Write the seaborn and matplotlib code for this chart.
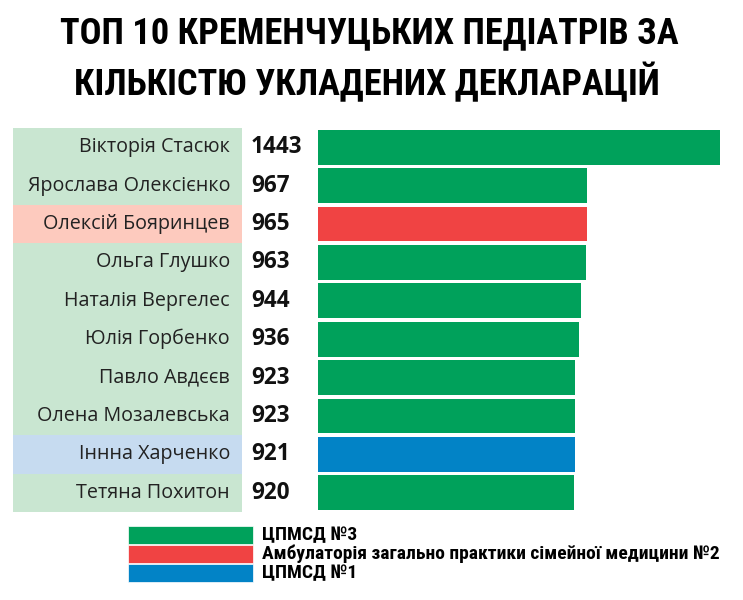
import matplotlib
matplotlib.use("Agg")
import matplotlib.pyplot as plt
import matplotlib.transforms as mtransforms
from matplotlib.patches import Rectangle
from matplotlib import font_manager
import seaborn as sns
import pandas as pd

# data
names = ["Вікторія Стасюк", "Ярослава Олексієнко", "Олексій Бояринцев", "Ольга Глушко",
         "Наталія Вергелес", "Юлія Горбенко", "Павло Авдєєв", "Олена Мозалевська",
         "Іннна Харченко", "Тетяна Похитон"]
declarations = [1443, 967, 965, 963, 944, 936, 923, 923, 921, 920]
clinic_order = ["ЦПМСД №3", "Амбулаторія загально практики сімейної медицини №2", "ЦПМСД №1"]
clinics = [clinic_order[i] for i in [0, 0, 1, 0, 0, 0, 0, 0, 2, 0]]
bar_colors = ["#00A15B", "#F04343", "#0283C6"]
row_colors = ["#C9E6D1", "#FDCABE", "#C6DBF0"]
title_lines = ["ТОП 10 КРЕМЕНЧУЦЬКИХ ПЕДІАТРІВ ЗА", "КІЛЬКІСТЮ УКЛАДЕНИХ ДЕКЛАРАЦІЙ"]

W, H = 743, 600


def fx(px):
    return px / W


def fy(px):
    return 1 - px / H


installed = {f.name for f in font_manager.fontManager.ttflist}
cond = "Roboto Condensed" if "Roboto Condensed" in installed else "Roboto"
body_font = "Open Sans" if "Open Sans" in installed else "DejaVu Sans"

df = pd.DataFrame({"name": names, "declarations": declarations, "clinic": clinics})

sns.set_theme(style="white")
fig = plt.figure(figsize=(W / 100, H / 100), dpi=100)
# bars region: value 0 at x=318px, 1443 at x=720px, rows from y=128 to 512px
ax = fig.add_axes([fx(318), fy(512), fx(720 - 318), (512 - 128) / H])
sns.barplot(data=df, x="declarations", y="name", hue="clinic", hue_order=clinic_order,
            palette=bar_colors, dodge=False, width=0.91, saturation=1,
            legend=False, ax=ax, edgecolor="none")
ax.set_xlim(0, max(declarations))
ax.set_ylim(len(names) - 0.5, -0.5)
ax.axis("off")

fig.canvas.draw()
renderer = fig.canvas.get_renderer()


def fit(t, target_px):
    w = t.get_window_extent(renderer).width
    t.set_fontsize(t.get_fontsize() * target_px / w)
    return t.get_fontsize()


# name column backgrounds and labels
trans = mtransforms.blended_transform_factory(fig.transFigure, ax.transData)
name_texts, num_texts = [], []
for i, (nm, val, cl) in enumerate(zip(names, declarations, clinics)):
    c = row_colors[clinic_order.index(cl)]
    ax.add_patch(Rectangle((fx(13), i - 0.5), fx(242 - 13), 1.0, transform=trans,
                           facecolor=c, edgecolor="none", clip_on=False))
    name_texts.append(ax.text(fx(230), i, nm, transform=trans, ha="right", va="center",
                              fontsize=13, family=body_font, color="#222222"))
    num_texts.append(ax.text(fx(251), i, str(val), transform=trans, ha="left", va="center",
                             fontsize=13, family=body_font, fontweight="bold",
                             color="#111111"))

size = fit(name_texts[1], 202)
for t in name_texts:
    t.set_fontsize(size)
nsize = fit(num_texts[0], 51)
for t in num_texts:
    t.set_fontsize(nsize)

# title
t1 = fig.text(0.497, fy(43), title_lines[0], ha="center", va="baseline",
              fontsize=30, fontweight="bold", color="black", family=cond)
t2 = fig.text(0.494, fy(95), title_lines[1], ha="center", va="baseline",
              fontsize=30, fontweight="bold", color="black", family=cond)
tsize = fit(t1, 618)
t2.set_fontsize(tsize)

# legend
leg_tops = [526, 545, 564]
leg_texts = []
for top, lab, col in zip(leg_tops, clinic_order, bar_colors):
    fig.patches.append(Rectangle((fx(128), fy(top + 18)), fx(125), 18 / H,
                                 transform=fig.transFigure, facecolor=col,
                                 edgecolor="white", linewidth=0.5))
    leg_texts.append(fig.text(fx(262), fy(top + 9), lab, ha="left", va="center",
                              fontsize=12, fontweight="bold", color="black", family=cond))
lsize = fit(leg_texts[1], 458)
for t in leg_texts:
    t.set_fontsize(lsize)

fig.savefig("out.png", dpi=100)
